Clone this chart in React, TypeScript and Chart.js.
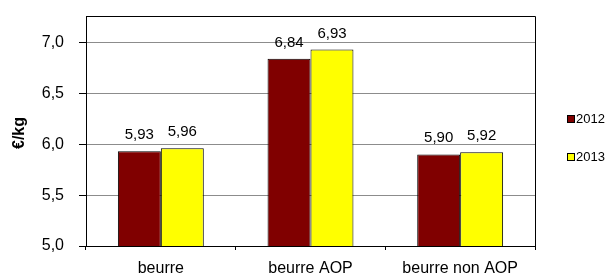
import React, { useEffect, useRef } from "react";
import { Chart, registerables } from "chart.js";

Chart.register(...registerables);

const categories = ["beurre", "beurre AOP", "beurre non AOP"];
const values2012 = [5.93, 6.84, 5.9];
const values2013 = [5.96, 6.93, 5.92];
const seriesLabels = ["2012", "2013"];
const seriesColors = ["#800000", "#FFFF00"];
const yTicks = [5.0, 5.5, 6.0, 6.5, 7.0];
const yTitle = "€/kg";

const FONT = "'Liberation Sans', Arial, sans-serif";

const fmt1 = (v: number) => v.toFixed(1).replace(".", ",");
const fmt2 = (v: number) => v.toFixed(2).replace(".", ",");

const extrasPlugin = {
  id: "extras",
  afterDatasetsDraw(chart: any) {
    const { ctx, chartArea } = chart;
    ctx.save();
    // frame (top and right)
    ctx.strokeStyle = "#000";
    ctx.lineWidth = 1;
    ctx.beginPath();
    ctx.moveTo(Math.round(chartArea.left) + 0.5, Math.round(chartArea.top) + 0.5);
    ctx.lineTo(Math.round(chartArea.right) + 0.5, Math.round(chartArea.top) + 0.5);
    ctx.lineTo(Math.round(chartArea.right) + 0.5, Math.round(chartArea.bottom) + 0.5);
    ctx.stroke();

    // data labels
    ctx.fillStyle = "#000";
    ctx.font = `15px ${FONT}`;
    ctx.textAlign = "center";
    ctx.textBaseline = "alphabetic";
    chart.data.datasets.forEach((ds: any, di: number) => {
      const meta = chart.getDatasetMeta(di);
      meta.data.forEach((bar: any, i: number) => {
        ctx.fillText(fmt2(ds.data[i]), bar.x, bar.y - 12);
      });
    });

    // y title
    ctx.save();
    ctx.translate(20, 133);
    ctx.rotate(-Math.PI / 2);
    ctx.font = `bold 16px ${FONT}`;
    ctx.textAlign = "center";
    ctx.textBaseline = "middle";
    ctx.fillText(yTitle, 0, 0);
    ctx.restore();

    // legend
    const legendY = [119, 157];
    seriesLabels.forEach((lab, i) => {
      const y = legendY[i];
      ctx.fillStyle = seriesColors[i];
      ctx.fillRect(567.5, y - 3.5, 7, 7);
      ctx.strokeStyle = "#000";
      ctx.strokeRect(567.5, y - 3.5, 7, 7);
      ctx.fillStyle = "#000";
      ctx.font = `13px ${FONT}`;
      ctx.textAlign = "left";
      ctx.textBaseline = "middle";
      ctx.fillText(lab, 576, y);
    });
    ctx.restore();
  },
};

export default function App() {
  const ref = useRef<HTMLCanvasElement>(null);
  useEffect(() => {
    if (!ref.current) return;
    const chart = new Chart(ref.current, {
      type: "bar",
      data: {
        labels: categories,
        datasets: [
          {
            label: seriesLabels[0],
            data: values2012,
            backgroundColor: seriesColors[0],
            borderColor: "#000",
            borderWidth: 1,
            categoryPercentage: 0.574,
            barPercentage: 1.0,
          },
          {
            label: seriesLabels[1],
            data: values2013,
            backgroundColor: seriesColors[1],
            borderColor: "#000",
            borderWidth: 1,
            categoryPercentage: 0.574,
            barPercentage: 1.0,
          },
        ],
      },
      options: {
        responsive: false,
        animation: false,
        layout: { padding: { left: 0, top: 16, right: 78, bottom: 0 } },
        plugins: {
          legend: { display: false },
          tooltip: { enabled: false },
        },
        scales: {
          x: {
            grid: {
              offset: true,
              drawOnChartArea: false,
              drawTicks: true,
              tickLength: 4,
              tickColor: "#000",
            },
            border: { color: "#000", width: 1 },
            ticks: {
              color: "#000",
              font: { family: FONT, size: 16 },
              padding: 9,
              maxRotation: 0,
              autoSkip: false,
            },
            afterFit: (scale: any) => {
              scale.height = 30;
              scale.paddingLeft = 0;
              scale.paddingRight = 0;
            },
          },
          y: {
            min: 5,
            max: 7.26,
            afterBuildTicks: (scale: any) => {
              scale.ticks = yTicks.map((v) => ({ value: v }));
            },
            grid: {
              color: "#8c8c8c",
              lineWidth: 1,
              drawTicks: true,
              tickLength: 7,
              tickColor: "#000",
            },
            border: { color: "#000", width: 1 },
            ticks: {
              color: "#000",
              font: { family: FONT, size: 16 },
              padding: 15,
              callback: (v: any) => fmt1(Number(v)),
            },
            afterFit: (scale: any) => {
              scale.width = 86;
              scale.paddingTop = 0;
              scale.paddingBottom = 0;
            },
          },
        },
      },
      plugins: [extrasPlugin],
    });
    return () => chart.destroy();
  }, []);
  return (
    <div style={{ position: "absolute", left: 0, top: 0, width: 613, height: 276, background: "#fff" }}>
      <canvas ref={ref} width={613} height={276} style={{ display: "block" }} />
    </div>
  );
}
